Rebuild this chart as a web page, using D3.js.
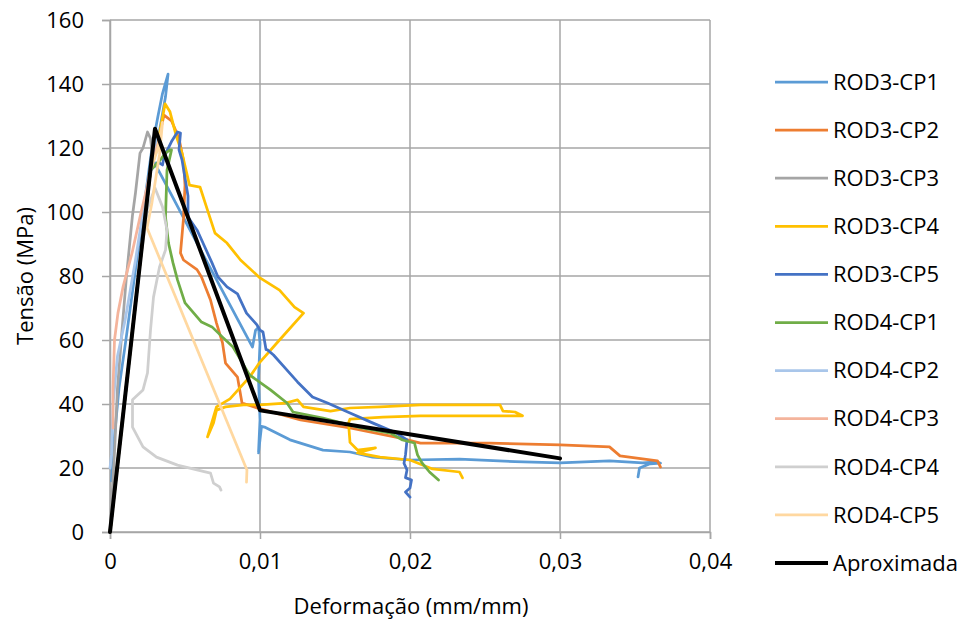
<!DOCTYPE html>
<html>
<head>
<meta charset="utf-8">
<script src="https://cdn.jsdelivr.net/npm/d3@7/dist/d3.min.js"></script>
<style>
  html, body { margin: 0; padding: 0; background: #fff; }
  svg text { font-family: "Open Sans", "Liberation Sans", sans-serif; fill: #000; }
</style>
</head>
<body>
<svg id="chart" width="967" height="622"></svg>
<script>
// Stress-strain curves: [strain (mm/mm), stress (MPa)]
const seriesNames = ["ROD3-CP1", "ROD3-CP2", "ROD3-CP3", "ROD3-CP4", "ROD3-CP5",
                     "ROD4-CP1", "ROD4-CP2", "ROD4-CP3", "ROD4-CP4", "ROD4-CP5", "Aproximada"];

const rod3cp1 = [[0.0001,16],[0.0003,30],[0.0006,45],[0.001,58],[0.0017,82],[0.0023,103],[0.0028,120],
  [0.0032,130],[0.0035,137],[0.00387,143.1],[0.0037,136],[0.0034,128],[0.0031,120],[0.0029,116],
  [0.006,88.5],[0.0095,57.8],[0.0097,63],[0.0099,64],[0.01,59],[0.0099,48],[0.01,35],[0.0099,24.7],
  [0.0101,33],[0.0103,32.8],[0.012,28.8],[0.0142,25.6],[0.016,25],[0.0175,23.4],[0.02,22.5],
  [0.0233,22.8],[0.027,22],[0.03,21.6],[0.0333,22.2],[0.0355,21.6],[0.0365,21.9],[0.0367,21.5],
  [0.036,21.3],[0.0353,20],[0.0352,17.2]];

const rod3cp2 = [[0,0],[0.001,42],[0.002,84],[0.0027,113],[0.0032,122],[0.0036,130.3],[0.0041,128.5],
  [0.0046,123],[0.0049,116],[0.005,108.4],[0.0049,98],[0.0047,87.2],[0.0049,85],[0.0058,82],
  [0.0061,79.7],[0.0067,72.5],[0.0071,65.3],[0.0075,59.1],[0.0077,52.8],[0.0085,48.4],[0.0088,40.3],
  [0.0098,38.8],[0.0127,35],[0.016,32.5],[0.0193,29.4],[0.0207,27.8],[0.0253,27.8],[0.03,27.2],
  [0.0333,26.6],[0.034,23.8],[0.0365,22.2],[0.0367,20.3]];

const rod3cp3 = [[0,0],[0.0003,25],[0.0005,45],[0.0008,63],[0.0011,80],[0.0015,99],[0.0017,106],
  [0.002,118.4],[0.0022,120],[0.0025,125],[0.0027,123],[0.0028,119]];

const rod3cp4 = [[0,0],[0.001,42],[0.002,84],[0.0027,113],[0.0032,122],[0.0035,129.4],[0.00367,133.8],
  [0.004,131.3],[0.0044,124],[0.0048,118.4],[0.0053,108.4],[0.006,107.8],[0.0065,100.6],[0.007,93.4],
  [0.0078,90.3],[0.0087,85],[0.01,79.4],[0.0113,75.6],[0.0123,70.3],[0.0129,68.4],[0.0113,60],
  [0.01,53.1],[0.0093,48.4],[0.008,41.6],[0.0071,39.1],[0.0065,29.7],[0.0069,34.1],[0.0071,38.1],
  [0.0077,39.1],[0.0089,39.7],[0.01,39.7],[0.0117,40.3],[0.0125,41.3],[0.0129,39.1],[0.0147,37.8],
  [0.016,38.75],[0.018,39.1],[0.0207,39.7],[0.026,39.7],[0.0262,37.8],[0.027,37.5],[0.0275,36.3],
  [0.0247,36.3],[0.0207,36.3],[0.0182,35.9],[0.016,35.3],[0.0159,34.1],[0.016,28],[0.0165,25.6],
  [0.0177,26.3],[0.0165,24.7],[0.018,23.4],[0.02,22.5],[0.0215,19.7],[0.0233,18.75],[0.0235,16.9]];

const rod3cp5 = [[0,0],[0.001,42],[0.002,84],[0.0027,113],[0.0032,115.6],[0.0035,114.7],[0.0036,117.2],
  [0.0041,122],[0.0045,125],[0.0047,124.7],[0.0046,119.4],[0.0048,116.3],[0.005,110.6],[0.0052,105],
  [0.0052,98.4],[0.0058,94.4],[0.0062,90.3],[0.0068,84.1],[0.0072,79.7],[0.0078,76.6],[0.0085,74.4],
  [0.0091,68.4],[0.0098,64.7],[0.01,63.1],[0.0102,62.5],[0.0104,57],[0.0105,56.9],[0.0109,55.3],
  [0.0118,50.6],[0.0125,46.9],[0.0135,42.2],[0.0145,40.3],[0.016,37.2],[0.0175,34.1],[0.0191,30.9],
  [0.0198,28.75],[0.0197,24.1],[0.0196,21.5],[0.0198,19.4],[0.0197,17],[0.0201,16.25],[0.02,13.75],
  [0.0197,12.5],[0.02,10.9]];

const rod4cp1 = [[0,0],[0.001,42],[0.002,84],[0.0027,113],[0.0033,116],[0.0037,118.4],[0.004,119.4],
  [0.0041,119.4],[0.0038,113.1],[0.0037,98.4],[0.0039,90.3],[0.0042,84.1],[0.0045,78.8],[0.005,71.6],
  [0.0058,67.2],[0.0061,65.6],[0.0068,64.1],[0.0075,60.9],[0.0082,57.8],[0.0093,49.1],[0.0107,44.4],
  [0.0118,40.3],[0.0122,37.5],[0.0142,35.6],[0.0165,32.8],[0.0187,30.9],[0.0195,28.75],[0.0203,27.8],
  [0.0205,24.1],[0.0208,21.6],[0.0213,18.75],[0.0219,16.25]];

const rod4cp2 = [[0,20],[0.0001,24.1],[0.0002,40],[0.0005,55],[0.001,66],[0.0017,85],[0.0023,103],
  [0.0028,115],[0.0031,123]];

const rod4cp3 = [[0.0002,32.5],[0.0002,45],[0.0003,60],[0.00053,68.4],[0.00087,76.6],[0.00147,87.2],
  [0.002,98.4],[0.00247,107.8],[0.00267,113.1],[0.00313,120.3],[0.0033,122.5]];

const rod4cp4 = [[0,0],[0.001,42],[0.002,84],[0.0025,101],[0.003,107.5],[0.0035,101.6],
  [0.0038,94.4],[0.0037,88.1],[0.0033,82.8],[0.0029,73.4],[0.0027,63.1],[0.0025,49.7],[0.0022,44.4],
  [0.0015,41.3],[0.0015,32.8],[0.0022,26.6],[0.0031,23.4],[0.0045,20.9],[0.0058,19.4],[0.0067,18.4],
  [0.0069,15.3],[0.0073,14.1],[0.0074,13.1]];

const rod4cp5 = [[0,0],[0.001,42],[0.002,84],[0.0027,113],[0.0032,120],[0.0035,128],[0.0033,118],
  [0.0028,103],[0.00247,95],[0.00913,19.4],[0.0091,15.6]];

const aproximada = [[0,0],[0.003,126],[0.01,38],[0.03,23]];

const seriesData = [rod3cp1, rod3cp2, rod3cp3, rod3cp4, rod3cp5,
                    rod4cp1, rod4cp2, rod4cp3, rod4cp4, rod4cp5, aproximada];

const seriesColors = ["#5B9BD5", "#ED7D31", "#A5A5A5", "#FFC000", "#4472C4",
                      "#70AD47", "#A9C6EA", "#F4B49C", "#CFCFCF", "#FFD8A0", "#000000"];

const xTicks = [0, 0.01, 0.02, 0.03, 0.04];
const yTicks = [0, 20, 40, 60, 80, 100, 120, 140, 160];

const svg = d3.select("#chart");
const plot = { left: 110, right: 710, top: 20, bottom: 532 };

const x = d3.scaleLinear().domain([0, 0.04]).range([plot.left, plot.right]);
const y = d3.scaleLinear().domain([0, 160]).range([plot.bottom, plot.top]);

const gridColor = "#A6A6A6";
const fmt = d => d === 0 ? "0" : d3.format(".2f")(d).replace(".", ",");

// Gridlines
svg.append("g").selectAll("line").data(yTicks).join("line")
  .attr("x1", plot.left).attr("x2", plot.right)
  .attr("y1", d => y(d)).attr("y2", d => y(d))
  .attr("stroke", gridColor).attr("stroke-width", 1.5);
svg.append("g").selectAll("line").data(xTicks).join("line")
  .attr("x1", d => x(d)).attr("x2", d => x(d))
  .attr("y1", plot.top).attr("y2", plot.bottom)
  .attr("stroke", gridColor).attr("stroke-width", 1.5);

// Axes
const xAxis = d3.axisBottom(x).tickValues(xTicks).tickSize(7).tickPadding(14).tickFormat(fmt);
const gx = svg.append("g").attr("transform", `translate(0,${plot.bottom})`).call(xAxis);
gx.select(".domain").attr("stroke", gridColor).attr("stroke-width", 1.5);
gx.selectAll(".tick line").attr("stroke", gridColor).attr("stroke-width", 1.5);
gx.selectAll("text").attr("font-size", 22).attr("font-family", "Open Sans").attr("fill", "#000");

const yAxis = d3.axisLeft(y).tickValues(yTicks).tickSize(8).tickPadding(18).tickFormat(d3.format("d"));
const gy = svg.append("g").attr("transform", `translate(${plot.left},0)`).call(yAxis);
gy.select(".domain").attr("stroke", gridColor).attr("stroke-width", 1.5);
gy.selectAll(".tick line").attr("stroke", gridColor).attr("stroke-width", 1.5);
gy.selectAll("text").attr("font-size", 22).attr("font-family", "Open Sans").attr("fill", "#000");

// Axis titles
svg.append("text").attr("x", 411).attr("y", 614).attr("text-anchor", "middle")
  .attr("font-size", 22).text("Deformação (mm/mm)");
svg.append("text").attr("transform", "translate(33,276) rotate(-90)").attr("text-anchor", "middle")
  .attr("font-size", 22).text("Tensão (MPa)");

// Curves (the approximation is drawn last, on top)
const line = d3.line().x(d => x(d[0])).y(d => y(d[1]));
svg.append("g").selectAll("path").data(seriesData).join("path")
  .attr("d", line)
  .attr("fill", "none")
  .attr("stroke", (d, i) => seriesColors[i])
  .attr("stroke-width", (d, i) => i === 10 ? 4 : 2.75)
  .attr("stroke-linejoin", "round")
  .attr("stroke-linecap", "round");

// Legend
const legend = svg.append("g");
const rows = legend.selectAll("g").data(seriesNames).join("g")
  .attr("transform", (d, i) => `translate(0,${82 + i * 48.1})`);
rows.append("line").attr("x1", 775).attr("x2", 828).attr("y1", 0).attr("y2", 0)
  .attr("stroke", (d, i) => seriesColors[i])
  .attr("stroke-width", (d, i) => i === 10 ? 4 : 2.75);
rows.append("text").attr("x", 833).attr("y", 0).attr("dy", "0.35em")
  .attr("font-size", 22).text(d => d);
</script>
</body>
</html>
